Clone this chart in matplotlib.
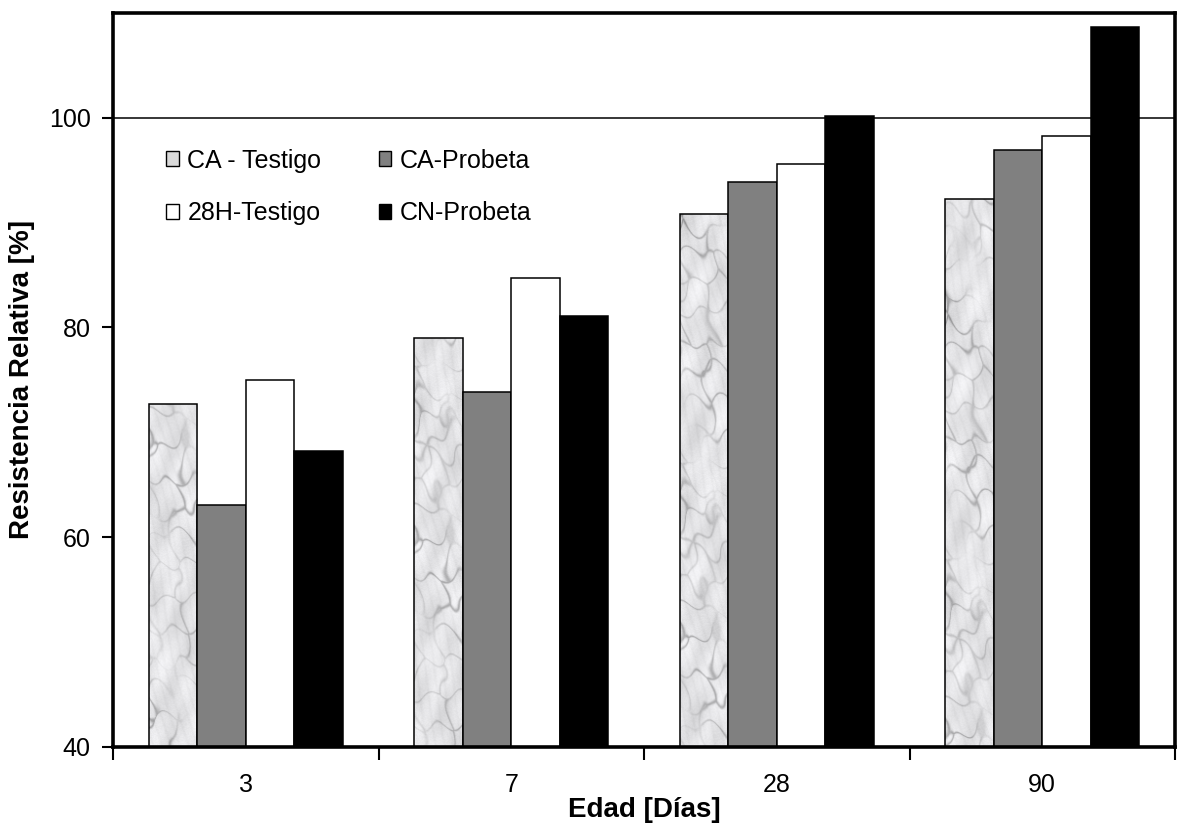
import numpy as np
import matplotlib
matplotlib.use("Agg")
import matplotlib.pyplot as plt
from matplotlib.patches import Patch

plt.rcParams['font.family'] = ['Liberation Sans', 'DejaVu Sans']

# Data
edades = ["3", "7", "28", "90"]
series = ["CA - Testigo", "CA-Probeta", "28H-Testigo", "CN-Probeta"]
ca_testigo = [72.7, 79.0, 90.8, 92.2]
ca_probeta = [63.1, 73.8, 93.9, 96.9]
h28_testigo = [75.0, 84.7, 95.6, 98.2]
cn_probeta = [68.2, 81.1, 100.2, 108.6]
valores = [ca_testigo, ca_probeta, h28_testigo, cn_probeta]
colores = ["marble", "#808080", "#ffffff", "#000000"]

y_min, y_max = 40, 110


def _hash(a, b):
    """Deterministic pseudo-hash in [0, 1)."""
    v = np.sin(a * 12.9898 + b * 78.233) * 43758.5453
    return v - np.floor(v)


def marble_texture(h=1100, w=50, cell=30.0):
    """Light stone texture with a network of soft grey cracks."""
    yy, xx = np.mgrid[0:h, 0:w].astype(float)
    # wavy warp of the coordinates
    wy = yy + 6 * np.sin(xx * 0.21 + yy * 0.05) + 3 * np.sin(yy * 0.17)
    wx = xx + 6 * np.sin(yy * 0.09 + 1.7) + 2 * np.cos(xx * 0.3 + yy * 0.11)
    rows = int(h / cell) + 3
    cols = int(w / cell) + 3
    gi, gj = np.meshgrid(np.arange(-1, rows), np.arange(-1, cols), indexing="ij")
    sy = (gi + 0.15 + 0.7 * _hash(gi, gj)) * cell
    sx = (gj + 0.15 + 0.7 * _hash(gj + 31.0, gi + 7.0)) * cell
    sy = sy.ravel()
    sx = sx.ravel()
    d = np.sqrt((wy[..., None] - sy) ** 2 + (wx[..., None] - sx) ** 2)
    d.sort(axis=-1)
    edge = d[..., 1] - d[..., 0]
    strength = 0.5 + 0.5 * np.sin(yy * 0.031 + xx * 0.07 + 0.8) * np.cos(yy * 0.013 - 0.4)
    vein = np.exp(-(edge / 2.2) ** 2) * np.clip(strength, 0.05, 1.0)
    cloud = (np.sin(yy * 0.045 + 0.8 * np.sin(xx * 0.15)) * np.cos(xx * 0.11 + yy * 0.021)
             + 0.5 * np.sin(yy * 0.11 - xx * 0.19 + 2.0))
    streak = np.sin(yy * 0.08 + xx * 0.35 + 2.0 * np.sin(yy * 0.02)) ** 8
    grain = _hash(yy * 0.37 + 1.3, xx * 0.91 + 2.7) - 0.5
    val = 0.90 + 0.04 * cloud + 0.03 * grain - 0.025 * streak - 0.26 * vein
    val = np.clip(val, 0.5, 0.97)
    rgb = np.dstack([val, val, np.clip(val * 1.01, 0, 1)])
    return rgb


fig = plt.figure(figsize=(11.8, 8.3), dpi=100)
ax = fig.add_axes([0.0958, 0.1, 0.90, 0.8847])

x = np.arange(len(edades))
n = len(series)
width = 0.183
offsets = (np.arange(n) - (n - 1) / 2) * width

tex = marble_texture()
for i, (nombre, vals, col) in enumerate(zip(series, valores, colores)):
    heights = [v - y_min for v in vals]
    if col == "marble":
        bars = ax.bar(x + offsets[i], heights, width, bottom=y_min,
                      facecolor="none", edgecolor="black", linewidth=1.1, zorder=3)
        for k, b in enumerate(bars):
            x0 = b.get_x()
            x1 = x0 + b.get_width()
            im = ax.imshow(tex[97 * k: 97 * k + 740],
                           extent=(x0, x1, y_min, y_max), aspect="auto",
                           interpolation="bilinear", zorder=2, origin="lower")
            im.set_clip_path(b)
    else:
        ax.bar(x + offsets[i], heights, width, bottom=y_min,
               facecolor=col, edgecolor="black", linewidth=1.1, zorder=3)

ax.axhline(100, color="black", linewidth=1.1, zorder=1)

ax.set_xlim(-0.5, len(edades) - 0.5)
ax.set_ylim(y_min, y_max)
ax.set_aspect("auto")

ax.set_yticks([40, 60, 80, 100])
ax.tick_params(axis="y", direction="out", length=8, width=1.5, labelsize=18, pad=8)
ax.set_xticks(x)
ax.set_xticklabels(edades)
ax.tick_params(axis="x", which="major", length=0, labelsize=18, pad=19)
ax.set_xticks(np.arange(len(edades) + 1) - 0.5, minor=True)
ax.tick_params(axis="x", which="minor", direction="out", length=9, width=1.5)

for s in ax.spines.values():
    s.set_linewidth(2.6)
    s.set_color("black")
    s.set_zorder(5)

ax.set_xlabel("Edad [Días]", fontsize=20, fontweight="bold", labelpad=0)
ax.set_ylabel("Resistencia Relativa [%]", fontsize=20, fontweight="bold", labelpad=10)

handles = [
    Patch(facecolor="#d9d9d9", edgecolor="black", linewidth=1.0, label=series[0]),
    Patch(facecolor="#ffffff", edgecolor="black", linewidth=1.0, label=series[2]),
    Patch(facecolor="#808080", edgecolor="black", linewidth=1.0, label=series[1]),
    Patch(facecolor="#000000", edgecolor="black", linewidth=1.0, label=series[3]),
]
ax.legend(handles=handles, ncol=2, loc="upper left", bbox_to_anchor=(0.050, 0.815),
          frameon=False, fontsize=18, handlelength=0.5, handleheight=0.55,
          handletextpad=0.35, columnspacing=2.3, labelspacing=1.15,
          borderpad=0, borderaxespad=0)

fig.savefig("out.png", dpi=100)
